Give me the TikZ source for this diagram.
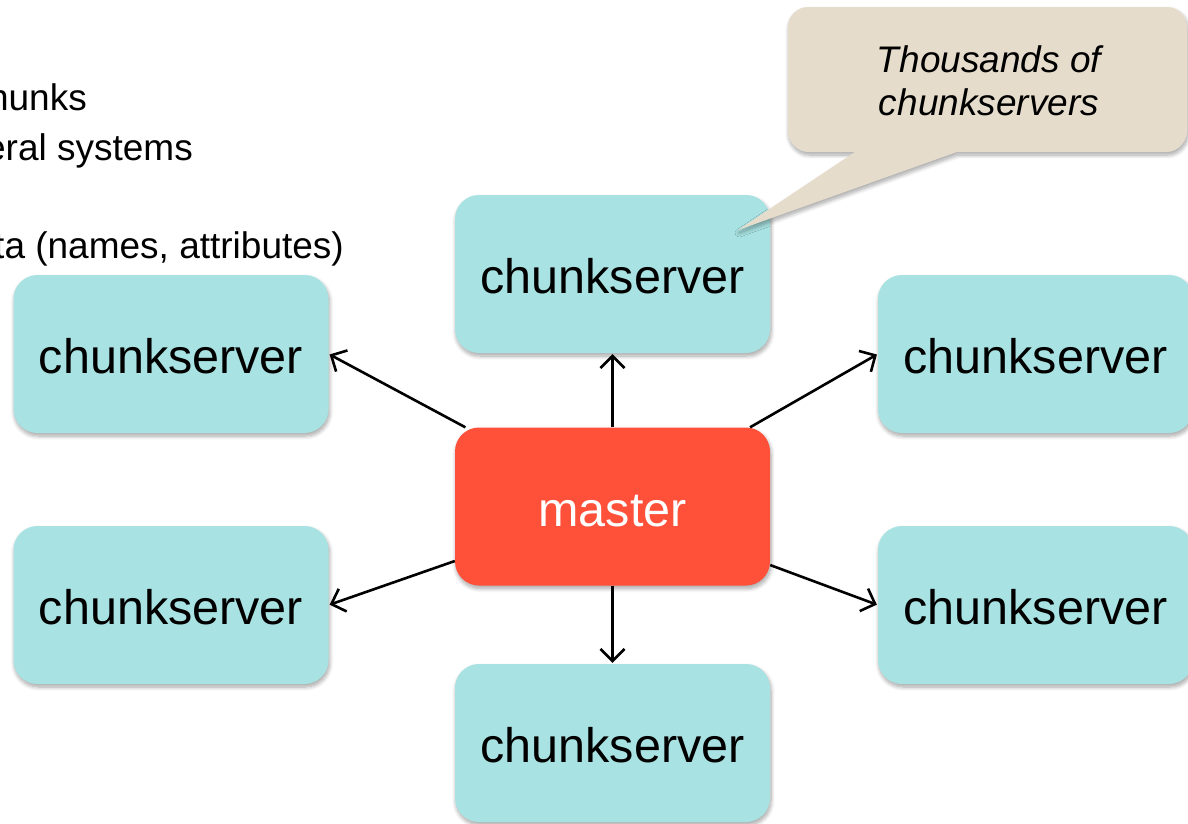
\documentclass[tikz,border=0pt]{standalone}
\usepackage{fontspec}
\setmainfont{Liberation Sans}
\usetikzlibrary{arrows.meta,shadows.blur}
\definecolor{csfill}{HTML}{A8E2E2}
\definecolor{masterfill}{HTML}{FF5039}
\definecolor{notefill}{HTML}{E5DCCC}
\begin{document}
\begin{tikzpicture}[x=1pt,y=-1pt,
  softshadow/.style={blur shadow={shadow xshift=1pt,shadow yshift=-3pt,
      shadow opacity=35,shadow blur radius=4pt,shadow blur steps=8}},
  box/.style={rounded corners=24pt,minimum width=315pt,minimum height=158pt,
      inner sep=0pt,text height=39pt,text depth=0pt,softshadow,
      font=\fontsize{48.5}{58}\selectfont},
  csbox/.style={box,fill=csfill,text=black},
  masterbox/.style={box,fill=masterfill,text=white},
  link/.style={line width=2.6pt,draw=black,
      -{Straight Barb[length=12pt,width=24pt,line width=2.6pt]},shorten >=1pt},
  bullet/.style={anchor=base east,inner sep=0pt,font=\fontsize{37}{44}\selectfont}
]
\useasboundingbox (0,0) rectangle (1188,823);

% bullet text at the left edge
\node[bullet] (b1) at (87,110) {hunks};
\node[bullet] (b2) at (193,160) {eral systems};
\node[bullet] (b3) at (344,258) {ta (names, attributes)};

% servers
\node[csbox] (top) at (612.5,274) {chunkserver};
\node[csbox] (ul)  at (171,354)   {chunkserver};
\node[csbox] (ur)  at (1035.5,354) {chunkserver};
\node[csbox] (ll)  at (171,605)   {chunkserver};
\node[csbox] (lr)  at (1035.5,605) {chunkserver};
\node[csbox] (bot) at (612.5,743) {chunkserver};
\node[masterbox] (master) at (612.5,506.5) {master};

% links from the master
\draw[link] (master) -- (top.south);
\draw[link] (master) -- (bot.north);
\draw[link] (master) -- (ul.east);
\draw[link] (master) -- (ll.east);
\draw[link] (master) -- (ur.west);
\draw[link] (master) -- (lr.west);

% speech bubble
\path[fill=notefill,softshadow]
  (855,152) -- (738,230) -- (957,152) -- (1167,152)
  .. controls (1178,152) and (1187,141) .. (1187,132) -- (1187,27)
  .. controls (1187,16) and (1178,7) .. (1167,7) -- (808,7)
  .. controls (797,7) and (788,16) .. (788,27) -- (788,132)
  .. controls (788,141) and (797,152) .. (808,152) -- cycle;
\node[align=center,inner sep=0pt,font=\fontsize{37}{43}\selectfont\itshape]
  (note) at (989,81) {Thousands of\\chunkservers};
\end{tikzpicture}
\end{document}
